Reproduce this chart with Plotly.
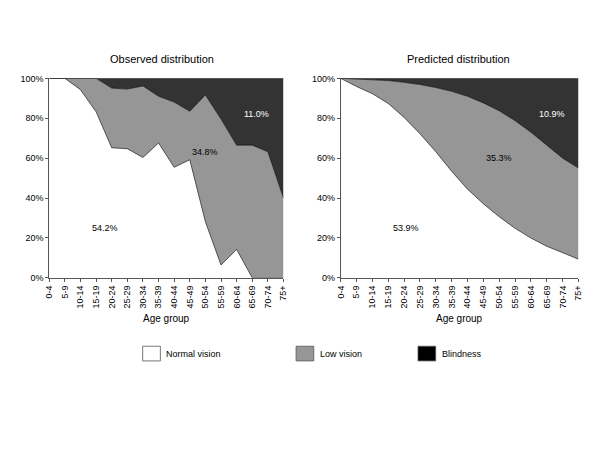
import plotly.graph_objects as go

age_groups = ["0-4", "5-9", "10-14", "15-19", "20-24", "25-29", "30-34", "35-39",
              "40-44", "45-49", "50-54", "55-59", "60-64", "65-69", "70-74", "75+"]

# observed distribution (% of age group)
obs_normal = [100, 100, 94.3, 83.2, 65.2, 64.7, 60.3, 67.6, 55.4, 59.2, 28.1, 6.4, 14.2, 0, 0, 0]
obs_low = [0, 0, 5.7, 16.8, 29.9, 29.9, 35.9, 23.4, 32.7, 24.3, 63.6, 73.2, 52.3, 66.5, 63.2, 40.0]
obs_blind = [round(100 - a - b, 1) for a, b in zip(obs_normal, obs_low)]

# predicted distribution (% of age group)
pred_normal = [100, 95.9, 92.3, 87.4, 80.4, 72.2, 63.2, 53.4, 44.4, 37.1, 30.6, 24.8, 19.9, 15.8, 12.6, 9.3]
pred_low = [0, 3.7, 6.9, 11.5, 17.6, 24.7, 32.2, 40.1, 46.6, 50.6, 53.1, 54.0, 53.1, 50.7, 47.4, 45.7]
pred_blind = [round(100 - a - b, 1) for a, b in zip(pred_normal, pred_low)]

y_ticks = [0, 20, 40, 60, 80, 100]
y_tick_text = ["0%", "20%", "40%", "60%", "80%", "100%"]

obs_labels = ["54.2%", "34.8%", "11.0%"]
pred_labels = ["53.9%", "35.3%", "10.9%"]
legend_names = ["Normal vision", "Low vision", "Blindness"]

fills = ["#ffffff", "#969696", "#333333"]
font = "Liberation Sans, Arial, sans-serif"

fig = go.Figure()

for xa, ya, series, grp in [("x", "y", (obs_normal, obs_low, obs_blind), "obs"),
                            ("x2", "y2", (pred_normal, pred_low, pred_blind), "pred")]:
    for name, vals, col in zip(legend_names, series, fills):
        fig.add_trace(go.Scatter(
            x=age_groups, y=vals, name=name, stackgroup=grp, mode="lines",
            line=dict(color="#000000", width=0.6), fillcolor=col,
            xaxis=xa, yaxis=ya, showlegend=False, hoverinfo="skip"))

axis_common = dict(showline=True, linecolor="#555555", linewidth=1, ticks="outside",
                   ticklen=3, tickcolor="#555555", showgrid=False, zeroline=False,
                   tickfont=dict(family=font, size=9, color="#000000"))

fig.update_layout(
    width=600, height=450, paper_bgcolor="white", plot_bgcolor="white",
    margin=dict(l=0, r=0, t=0, b=0), showlegend=False,
    xaxis=dict(domain=[0.075, 0.472], anchor="y", tickangle=-90, range=[0, 15], **axis_common),
    yaxis=dict(domain=[0.38, 0.8333], anchor="x", range=[0, 100], tickvals=y_ticks,
               ticktext=y_tick_text, **axis_common),
    xaxis2=dict(domain=[0.569, 0.972], anchor="y2", tickangle=-90, range=[0, 15], **axis_common),
    yaxis2=dict(domain=[0.38, 0.8333], anchor="x2", range=[0, 100], tickvals=y_ticks,
                ticktext=y_tick_text, **axis_common),
)

ann = []
for x, txt in [(160 / 600, "Observed distribution"), (461 / 600, "Predicted distribution")]:
    ann.append(dict(x=x, y=1 - 55 / 450, xref="paper", yref="paper", text=txt, showarrow=False,
                    xanchor="center", yanchor="middle",
                    font=dict(family=font, size=11, color="#000000")))
for x in [164 / 600, 462 / 600]:
    ann.append(dict(x=x, y=1 - 321 / 450, xref="paper", yref="paper", text="Age group", showarrow=False,
                    xanchor="center", yanchor="middle",
                    font=dict(family=font, size=10, color="#000000")))

# area share labels
obs_pos = [(3.6, 25), (10.0, 63), (13.3, 82)]
pred_pos = [(4.1, 25), (10.0, 60), (13.3, 82)]
for (px_, py_), txt, c in zip(obs_pos, obs_labels, ["#000000", "#000000", "#ffffff"]):
    ann.append(dict(x=px_, y=py_, xref="x", yref="y", text=txt, showarrow=False,
                    font=dict(family=font, size=9, color=c)))
for (px_, py_), txt, c in zip(pred_pos, pred_labels, ["#000000", "#000000", "#ffffff"]):
    ann.append(dict(x=px_, y=py_, xref="x2", yref="y2", text=txt, showarrow=False,
                    font=dict(family=font, size=9, color=c)))

# legend boxes
shapes = []
box_x = [140, 296, 420]
legend_cols = ["#ffffff", "#969696", "#000000"]
for bx, name, col in zip(box_x, legend_names, legend_cols):
    shapes.append(dict(type="rect", xref="paper", yref="paper",
                       x0=bx / 600, x1=(bx + 18) / 600, y0=1 - 364 / 450, y1=1 - 349 / 450,
                       fillcolor=col, line=dict(color="#555555", width=0.8)))
    ann.append(dict(x=(bx + 22) / 600, y=1 - 356.5 / 450, xref="paper", yref="paper", text=name,
                    showarrow=False, xanchor="left", yanchor="middle",
                    font=dict(family=font, size=9, color="#000000")))

fig.update_layout(annotations=ann, shapes=shapes)

fig.write_html("out.html", config={"displayModeBar": False},
               post_script="document.body.style.margin='0';")
